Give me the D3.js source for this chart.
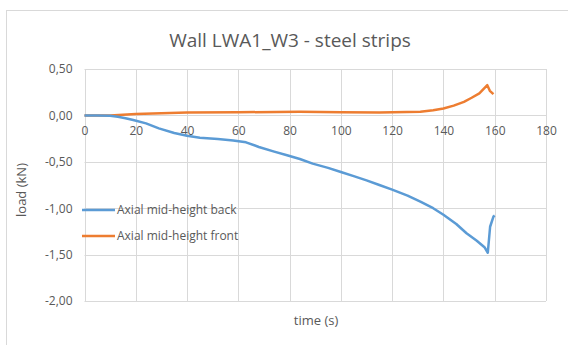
<!DOCTYPE html>
<html>
<head>
<meta charset="utf-8">
<script src="https://cdn.jsdelivr.net/npm/d3@7"></script>
<style>
  body { margin: 0; background: #fff; }
  text { font-family: "Open Sans", "Noto Sans", sans-serif; fill: #595959; }
</style>
</head>
<body>
<script>
// time (s) and load (kN)
var backTime = [0, 5, 10, 13, 16, 19, 24, 29, 35, 40, 45, 52, 58, 63, 68, 74, 79, 84, 89, 95, 100, 105, 110, 115, 120, 126, 131, 136, 140, 145, 149, 153, 156, 157.3, 158.2, 159.5, 160];
var backLoad = [0, 0, -0.005, -0.015, -0.03, -0.05, -0.086, -0.14, -0.19, -0.22, -0.24, -0.255, -0.27, -0.29, -0.34, -0.39, -0.43, -0.47, -0.52, -0.565, -0.61, -0.655, -0.70, -0.75, -0.80, -0.865, -0.93, -1.0, -1.07, -1.17, -1.27, -1.35, -1.42, -1.48, -1.20, -1.09, -1.08];

var frontTime = [0, 5, 10, 15, 20, 30, 40, 60, 84, 100, 115, 131, 136, 140, 144, 148, 151, 154, 157.1, 158.1, 159.5];
var frontLoad = [0, 0, 0, 0.008, 0.016, 0.024, 0.03, 0.034, 0.039, 0.035, 0.032, 0.039, 0.055, 0.075, 0.105, 0.146, 0.19, 0.237, 0.326, 0.265, 0.229];

var xTicks = [0, 20, 40, 60, 80, 100, 120, 140, 160, 180];
var yTicks = [0.5, 0, -0.5, -1, -1.5, -2];

var seriesNames = ["Axial mid-height back", "Axial mid-height front"];
var seriesColors = ["#5B9BD5", "#ED7D31"];

var width = 568, height = 345;
var margin = {top: 69, right: 22, bottom: 44, left: 84.5};

var svg = d3.select("body").append("svg")
  .attr("width", width)
  .attr("height", height);

// chart frame
svg.append("rect")
  .attr("x", 6.5).attr("y", 10.5)
  .attr("width", 620).attr("height", 400)
  .attr("fill", "#fff")
  .attr("stroke", "#d9d9d9");

var x = d3.scaleLinear([0, 180], [margin.left, width - margin.right]);
var y = d3.scaleLinear([-2, 0.5], [height - margin.bottom, margin.top]);

// grid
svg.append("g").selectAll("line").data(xTicks).enter().append("line")
  .attr("x1", function(d) { return Math.round(x(d)) + 0.5; })
  .attr("x2", function(d) { return Math.round(x(d)) + 0.5; })
  .attr("y1", y(0.5)).attr("y2", y(-2))
  .attr("stroke", "#d9d9d9");

svg.append("g").selectAll("line").data(yTicks).enter().append("line")
  .attr("x1", x(0)).attr("x2", x(180))
  .attr("y1", function(d) { return Math.round(y(d)) + 0.5; })
  .attr("y2", function(d) { return Math.round(y(d)) + 0.5; })
  .attr("stroke", "#d9d9d9");

var fmt = function(d) { return d3.format(".2f")(d).replace(".", ",").replace("\u2212", "-"); };

// y tick labels
var yAxis = svg.append("g")
  .attr("transform", "translate(" + (x(0) - 6) + ",0)")
  .call(d3.axisLeft(y).tickValues(yTicks).tickFormat(fmt).tickSize(0).tickPadding(6));
yAxis.select(".domain").remove();
yAxis.selectAll("text").attr("font-size", 12).attr("fill", "#595959");

// x tick labels sit below the zero line
var xAxis = svg.append("g")
  .attr("transform", "translate(0," + y(0) + ")")
  .call(d3.axisBottom(x).tickValues(xTicks).tickSize(0).tickPadding(11));
xAxis.select(".domain").remove();
xAxis.selectAll("text").attr("font-size", 12).attr("fill", "#595959");

var line = d3.line()
  .x(function(d) { return x(d[0]); })
  .y(function(d) { return y(d[1]); });

var back = backTime.map(function(t, i) { return [t, backLoad[i]]; });
var front = frontTime.map(function(t, i) { return [t, frontLoad[i]]; });

svg.append("path").datum(front)
  .attr("d", line)
  .attr("fill", "none")
  .attr("stroke", seriesColors[1])
  .attr("stroke-width", 2.5)
  .attr("stroke-linejoin", "round");

svg.append("path").datum(back)
  .attr("d", line)
  .attr("fill", "none")
  .attr("stroke", seriesColors[0])
  .attr("stroke-width", 2.5)
  .attr("stroke-linejoin", "round");

// title and axis titles
svg.append("text")
  .attr("x", 290).attr("y", 47)
  .attr("text-anchor", "middle")
  .attr("font-size", 19)
  .text("Wall LWA1_W3 - steel strips");

svg.append("text")
  .attr("transform", "translate(26," + 190 + ") rotate(-90)")
  .attr("text-anchor", "middle")
  .attr("font-size", 13)
  .text("load (kN)");

svg.append("text")
  .attr("x", 316).attr("y", 325)
  .attr("text-anchor", "middle")
  .attr("font-size", 13)
  .text("time (s)");

// legend
var legend = svg.append("g").selectAll("g").data(seriesNames).enter().append("g")
  .attr("transform", function(d, i) { return "translate(82," + (210 + i * 26) + ")"; });
legend.append("line")
  .attr("x1", 0).attr("x2", 33)
  .attr("stroke", function(d, i) { return seriesColors[i]; })
  .attr("stroke-width", 2.5);
legend.append("text")
  .attr("x", 35).attr("y", 4)
  .attr("font-size", 12)
  .text(function(d) { return d; });
</script>
</body>
</html>
